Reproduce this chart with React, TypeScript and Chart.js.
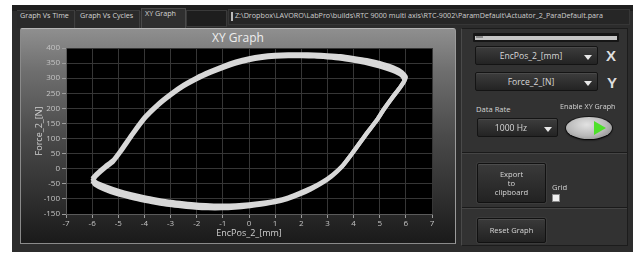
import React, { useEffect, useRef } from "react";
import { Chart, registerables } from "chart.js";
Chart.register(...registerables);

const FONT = "'Open Sans', 'Noto Sans', 'DejaVu Sans', sans-serif";

// ---- chart data ----
const chartTitle = "XY Graph";
const xAxisTitle = "EncPos_2_[mm]";
const yAxisTitle = "Force_2_[N]";
const xRange = [-7, 7];
const yRange = [-150, 400];
const xStep = 1;
const yStep = 50;

// cycle A (outer edge of the band)
const cycleAx = [-6.0, -5.85, -5.5, -5.2, -4.9, -4.5, -4.0, -3.5, -3.0, -2.5, -2.0, -1.5, -1.0, -0.5, 0, 0.5, 1.0, 1.5, 2.0, 2.5, 3.0, 3.5, 4.0, 4.5, 5.0, 5.5, 5.85, 6.0,
  5.8, 5.5, 5.2, 4.9, 4.5, 4.0, 3.6, 3.2, 2.8, 2.4, 2.0, 1.5, 1.0, 0.5, 0, -0.5, -1.0, -1.5, -2.0, -2.5, -3.0, -3.5, -4.0, -4.5, -5.0, -5.5, -5.85, -6.0];
const cycleAy = [-33, -18, 8, 28, 62, 112, 170, 213, 248, 278, 302, 322, 340, 355, 366, 373, 377, 379, 379, 378, 376, 373, 367, 360, 350, 336, 320, 303,
  272, 238, 202, 162, 117, 57, 12, -20, -44, -63, -78, -95, -106, -113, -118, -121, -122, -121, -119, -115, -110, -103, -95, -85, -73, -58, -45, -33];

// cycle B (inner edge of the band)
const cycleBx = [-6.0, -5.85, -5.5, -5.2, -4.9, -4.5, -4.0, -3.5, -3.0, -2.5, -2.0, -1.5, -1.0, -0.5, 0, 0.5, 1.0, 1.5, 2.0, 2.5, 3.0, 3.5, 4.0, 4.5, 5.0, 5.5, 5.85, 5.95,
  5.75, 5.45, 5.15, 4.85, 4.45, 3.95, 3.55, 3.15, 2.75, 2.35, 1.95, 1.45, 0.95, 0.45, -0.05, -0.55, -1.05, -1.55, -2.05, -2.55, -3.05, -3.55, -4.05, -4.55, -5.05, -5.55, -5.9, -6.0];
const cycleBy = [-40, -24, 3, 23, 57, 107, 165, 208, 243, 273, 297, 317, 334, 349, 360, 367, 371, 373, 373, 372, 369, 365, 358, 350, 339, 324, 308, 292,
  266, 232, 196, 156, 111, 51, 6, -26, -50, -69, -85, -101, -112, -119, -125, -129, -131, -131, -129, -125, -120, -113, -105, -95, -84, -68, -52, -40];

// ---- panel texts ----
const tabLabels = ["Graph Vs Time", "Graph Vs Cycles", "XY Graph"];
const filePath = "Z:\\Dropbox\\LAVORO\\LabPro\\builds\\RTC 9000 multi axis\\RTC-9002\\ParamDefault\\Actuator_2_ParaDefault.para";
const xChannel = "EncPos_2_[mm]";
const yChannel = "Force_2_[N]";
const dataRate = "1000 Hz";

function pts(xs: number[], ys: number[]) {
  return xs.map((x, i) => ({ x, y: ys[i] }));
}

const Box = (p: { x: number; y: number; w: number; h: number; style?: React.CSSProperties; children?: React.ReactNode }) => (
  <div style={{ position: "absolute", left: p.x, top: p.y, width: p.w, height: p.h, boxSizing: "border-box", ...p.style }}>{p.children}</div>
);

const Txt = (p: { x: number; y: number; text: string; size?: number; color?: string; bold?: boolean; style?: React.CSSProperties }) => (
  <div style={{ position: "absolute", left: p.x, top: p.y, fontFamily: FONT, fontSize: p.size ?? 8, color: p.color ?? "#d6d6d6", fontWeight: p.bold ? 700 : 400, whiteSpace: "nowrap", lineHeight: 1, ...p.style }}>{p.text}</div>
);

const Arrow = (p: { x: number; y: number }) => (
  <div style={{ position: "absolute", left: p.x, top: p.y, width: 0, height: 0, borderLeft: "4.5px solid transparent", borderRight: "4.5px solid transparent", borderTop: "5px solid #e8e8e8" }} />
);

const Dropdown = (p: { x: number; y: number; w: number; h: number; label: string; textCx: number }) => (
  <Box x={p.x} y={p.y} w={p.w} h={p.h} style={{ background: "linear-gradient(#3d3d3d, #232323)", border: "1px solid #141414", borderRadius: 2, boxShadow: "inset 0 1px 0 #4a4a4a" }}>
    <div style={{ position: "absolute", left: p.textCx - p.x - 60, width: 120, top: 0, height: p.h - 2, display: "flex", alignItems: "center", justifyContent: "center", fontFamily: FONT, fontSize: 8.6, color: "#d8d8d8" }}>{p.label}</div>
    <Arrow x={p.w - 15} y={p.h / 2 - 2} />
  </Box>
);

const Button = (p: { x: number; y: number; w: number; h: number; lines: string[] }) => (
  <Box x={p.x} y={p.y} w={p.w} h={p.h} style={{ background: "linear-gradient(#3a3a3a, #222)", border: "1px solid #111", borderRadius: 2, boxShadow: "inset 0 1px 0 #4c4c4c, 0 0 0 1px #3c3c3c" }}>
    <div style={{ position: "absolute", inset: 0, display: "flex", flexDirection: "column", alignItems: "center", justifyContent: "center", fontFamily: FONT, fontSize: 7.6, color: "#d8d8d8", lineHeight: "9px" }}>
      {p.lines.map((l, i) => <div key={i}>{l}</div>)}
    </div>
  </Box>
);

function XYChart() {
  const ref = useRef<HTMLCanvasElement>(null);
  useEffect(() => {
    if (!ref.current) return;
    const tickFont = { family: FONT, size: 8 };
    const chart = new Chart(ref.current, {
      type: "scatter",
      data: {
        datasets: [
          { data: pts(cycleAx, cycleAy), showLine: true, borderColor: "#d8d8d8", borderWidth: 4.2, pointRadius: 0, tension: 0.2, fill: false },
          { data: pts(cycleBx, cycleBy), showLine: true, borderColor: "#d8d8d8", borderWidth: 4.2, pointRadius: 0, tension: 0.2, fill: false },
        ],
      },
      options: {
        animation: false,
        responsive: false,
        maintainAspectRatio: false,
        layout: { padding: { left: 0, top: 20, right: 23, bottom: 0 } },
        plugins: { legend: { display: false }, tooltip: { enabled: false }, title: { display: false } },
        scales: {
          x: {
            type: "linear",
            min: xRange[0],
            max: xRange[1],
            ticks: { stepSize: xStep, color: "#c4c4c4", font: tickFont, padding: 1, maxRotation: 0, autoSkip: false },
            grid: { color: "#363636", tickColor: "#9c9c9c", tickLength: 4, lineWidth: 1 },
            border: { color: "#5a5a5a" },
            title: { display: true, text: xAxisTitle, color: "#cfcfcf", font: { family: FONT, size: 9 }, padding: { top: 0, bottom: 6 } },
            afterFit: (s: any) => { s.height = 31; },
          },
          y: {
            type: "linear",
            min: yRange[0],
            max: yRange[1],
            ticks: { stepSize: yStep, color: "#c4c4c4", font: tickFont, padding: 2, autoSkip: false },
            grid: { color: "#363636", tickColor: "#9c9c9c", tickLength: 4, lineWidth: 1 },
            border: { color: "#5a5a5a" },
            title: { display: true, text: yAxisTitle, color: "#cfcfcf", font: { family: FONT, size: 9 }, padding: { top: 14, bottom: 0 } },
            afterFit: (s: any) => { s.width = 46; },
          },
        },
      },
      plugins: [
        {
          id: "plotBg",
          beforeDraw(c: any) {
            const { ctx, chartArea: a } = c;
            ctx.save();
            ctx.fillStyle = "#000";
            ctx.fillRect(a.left, a.top, a.right - a.left, a.bottom - a.top);
            ctx.restore();
          },
        },
      ],
    } as any);
    return () => chart.destroy();
  }, []);
  return <canvas ref={ref} width={435} height={217} style={{ position: "absolute", left: 20, top: 28, width: 435, height: 217 }} />;
}

export default function App() {
  return (
    <div style={{ position: "absolute", left: 0, top: 0, width: 638, height: 255, background: "#fff", overflow: "hidden" }}>
      {/* main dark window */}
      <Box x={12} y={5} w={621} h={247} style={{ background: "#2c2c2c" }} />
      {/* tab strip */}
      <Box x={12} y={5} w={621} h={6} style={{ background: "#1f1f1f" }} />
      <Box x={17} y={10} w={58} h={18} style={{ background: "#2a2a2a", borderTop: "1px solid #3c3c3c", borderRight: "1px solid #3f3f3f" }} />
      <Box x={76} y={10} w={64} h={18} style={{ background: "#2a2a2a", borderTop: "1px solid #3c3c3c", borderRight: "1px solid #3f3f3f" }} />
      <Box x={141} y={8} w={45} h={20} style={{ background: "#2f2f2f", border: "1px solid #4a4a4a", borderBottom: "none" }} />
      <Box x={186} y={10} w={41} h={17} style={{ background: "#1e1e1e", border: "1px solid #3a3a3a" }} />
      <Txt x={20} y={12} text={tabLabels[0]} size={7.2} color="#d4d4d4" />
      <Txt x={80} y={12} text={tabLabels[1]} size={7.2} color="#d4d4d4" />
      <Txt x={145} y={10} text={tabLabels[2]} size={7.2} color="#d4d4d4" />
      <Box x={228} y={9} w={402} h={16} style={{ background: "#262626", border: "1px solid #363636" }} />
      <Box x={231} y={12} w={2} h={9} style={{ background: "#bbb" }} />
      <Txt x={235} y={12} text={filePath} size={7.2} color="#cfcfcf" />

      {/* graph panel */}
      <Box x={20} y={28} w={436} h={216} style={{ background: "linear-gradient(#8f8f8f 0%, #6e6e6e 20%, #4a4a4a 50%, #2e2e2e 80%, #1a1a1a 100%)", borderTop: "1px solid #b5b5b5", borderLeft: "1px solid #8a8a8a", borderRight: "1px solid #9a9a9a", borderBottom: "1px solid #8a8a8a", borderRadius: "2px 3px 0 0" }} />
      <div style={{ position: "absolute", left: 20, top: 31, width: 436, textAlign: "center", fontFamily: FONT, fontSize: 12, color: "#eeeeee", lineHeight: "14px" }}>{chartTitle}</div>
      <XYChart />

      {/* right control panel */}
      <Box x={461} y={28} w={167} h={218} style={{ background: "#323232", borderLeft: "1px solid #4a4a4a", borderRight: "1px solid #1c1c1c", borderTop: "1px solid #1c1c1c", borderBottom: "1px solid #1c1c1c" }} />
      <Box x={462} y={152} w={165} h={2} style={{ borderTop: "1px solid #1a1a1a", borderBottom: "1px solid #454545" }} />
      <Box x={462} y={207} w={165} h={2} style={{ borderTop: "1px solid #1a1a1a", borderBottom: "1px solid #454545" }} />
      {/* slider */}
      <Box x={473} y={33} w={146} h={9} style={{ background: "#161616", borderRadius: 1 }} />
      <Box x={475} y={36} w={142} h={4} style={{ background: "#c6c6c6" }} />
      <Box x={476} y={36} w={7} h={2} style={{ background: "#8a8a8a" }} />

      <Dropdown x={475} y={46} w={123} h={19} label={xChannel} textCx={530} />
      <Txt x={606} y={48} text="X" size={15} bold color="#dedede" style={{ fontFamily: "'Liberation Sans', Arial, sans-serif" }} />
      <Dropdown x={475} y={72} w={123} h={19} label={yChannel} textCx={530} />
      <Txt x={607} y={75} text="Y" size={15} bold color="#dedede" style={{ fontFamily: "'Liberation Sans', Arial, sans-serif" }} />

      <Txt x={476} y={106} text="Data Rate" size={7.6} color="#d4d4d4" />
      <Dropdown x={477} y={118} w={81} h={19} label={dataRate} textCx={510} />
      <Txt x={560} y={103} text="Enable XY Graph" size={7.2} color="#d4d4d4" />
      {/* toggle */}
      <div style={{ position: "absolute", left: 566, top: 117, width: 46, height: 22, borderRadius: "50%", background: "radial-gradient(ellipse at 45% 35%, #e2e2e2 0%, #b8b8b8 55%, #7a7a7a 100%)", boxShadow: "0 1px 2px #000, 0 0 0 1px #1a1a1a" }} />
      <div style={{ position: "absolute", left: 594, top: 121, width: 0, height: 0, borderTop: "7px solid transparent", borderBottom: "7px solid transparent", borderLeft: "12px solid #4ee02a" }} />

      <Button x={477} y={163} w={69} h={40} lines={["Export", "to", "clipboard"]} />
      <Txt x={552} y={184} text="Grid" size={7.6} color="#d4d4d4" />
      <Box x={552} y={194} w={8} h={8} style={{ background: "#f0f0f0", border: "1px solid #8a8a8a" }} />

      <Button x={477} y={218} w={69} h={25} lines={["Reset Graph"]} />
    </div>
  );
}
